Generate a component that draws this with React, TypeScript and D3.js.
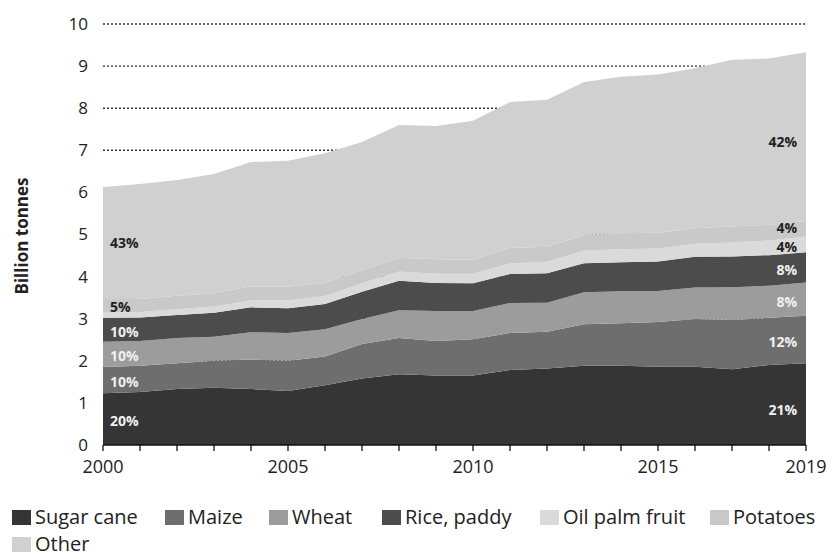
import React from "react";
import * as d3 from "d3";

const years = [2000,2001,2002,2003,2004,2005,2006,2007,2008,2009,2010,2011,2012,2013,2014,2015,2016,2017,2018,2019];
const sugarCane = [1.23,1.26,1.33,1.36,1.33,1.28,1.42,1.58,1.68,1.65,1.65,1.78,1.82,1.88,1.88,1.86,1.86,1.80,1.90,1.94];
const maize = [0.62,0.62,0.61,0.64,0.70,0.72,0.68,0.82,0.86,0.82,0.86,0.88,0.87,0.99,1.01,1.06,1.13,1.17,1.12,1.13];
const wheat = [0.60,0.59,0.60,0.57,0.65,0.66,0.65,0.59,0.66,0.71,0.67,0.71,0.69,0.76,0.76,0.74,0.75,0.78,0.76,0.79];
const rice = [0.57,0.56,0.55,0.57,0.59,0.59,0.60,0.65,0.70,0.67,0.66,0.69,0.70,0.69,0.69,0.70,0.73,0.73,0.73,0.72];
const oilPalm = [0.12,0.13,0.135,0.15,0.16,0.18,0.19,0.20,0.22,0.22,0.23,0.25,0.27,0.30,0.31,0.31,0.31,0.33,0.35,0.37];
const potatoes = [0.33,0.31,0.32,0.32,0.34,0.33,0.31,0.32,0.33,0.34,0.33,0.37,0.36,0.36,0.38,0.37,0.37,0.38,0.37,0.37];
const other = [2.66,2.73,2.75,2.83,2.95,2.99,3.08,3.04,3.15,3.17,3.30,3.47,3.49,3.64,3.72,3.76,3.80,3.96,3.95,4.01];

const seriesNames = ["Sugar cane","Maize","Wheat","Rice, paddy","Oil palm fruit","Potatoes","Other"];
const seriesValues = [sugarCane, maize, wheat, rice, oilPalm, potatoes, other];
const seriesColors = ["#353535","#6e6e6e","#9c9c9c","#4c4c4c","#dadada","#c9c9c9","#d0d0d0"];
const yTicks = [0,1,2,3,4,5,6,7,8,9,10];
const xTickLabels = [2000,2005,2010,2015,2019];
const startShares = ["20%","10%","10%","10%","","5%","43%"];
const endShares = ["21%","12%","8%","8%","4%","4%","42%"];
const labelDark = [false,false,false,false,true,true,true];

const W = 834, H = 559;
const FONT = "'Open Sans', Lato, sans-serif";

export default function App() {
  const x = d3.scaleLinear().domain([2000, 2019]).range([103, 806]);
  const y = d3.scaleLinear().domain([0, 10]).range([445, 24]);

  const rows = years.map((yr, i) => {
    const r: any = { year: yr };
    seriesNames.forEach((n, k) => (r[n] = seriesValues[k][i]));
    return r;
  });
  const stacked = d3.stack<any>().keys(seriesNames)(rows);
  const area = d3.area<any>()
    .x((d) => x(d.data.year))
    .y0((d) => y(d[0]))
    .y1((d) => y(d[1]));

  const legendItems = [
    { i: 0, sx: 12, tx: 35, ty: 517 },
    { i: 1, sx: 165, tx: 188, ty: 517 },
    { i: 2, sx: 269, tx: 292, ty: 517 },
    { i: 3, sx: 382, tx: 405, ty: 517 },
    { i: 4, sx: 540, tx: 563, ty: 517 },
    { i: 5, sx: 710, tx: 733, ty: 517 },
    { i: 6, sx: 12, tx: 35, ty: 544 },
  ];

  const first = stacked.map((s) => (s[0][0] + s[0][1]) / 2);
  const last = stacked.map((s) => (s[s.length - 1][0] + s[s.length - 1][1]) / 2);
  const startLabelY = [421, 382, 356, 332, null, 307, 243];
  const endLabelY = [410, 342, 302, 270, 247, 228, 142];

  return (
    <svg width={W} height={H} style={{ position: "absolute", left: 0, top: 0, background: "#fff" }} fontFamily={FONT}>
      {yTicks.filter((t) => t > 0).map((t) => (
        <line key={"g" + t} x1={x(2000)} x2={805} y1={y(t)} y2={y(t)} stroke="#333" strokeWidth={1.4} strokeDasharray="2,2" />
      ))}
      {stacked.map((s, k) => (
        <path key={seriesNames[k]} d={area(s) || ""} fill={seriesColors[k]} />
      ))}
      <line x1={x(2000)} x2={x(2019)} y1={y(0)} y2={y(0)} stroke="#111" strokeWidth={1.5} />
      {years.map((yr) => (
        <line key={"t" + yr} x1={x(yr)} x2={x(yr)} y1={y(0)} y2={y(0) + 6} stroke="#111" strokeWidth={1.3} />
      ))}
      {yTicks.map((t) => (
        <text key={"yl" + t} x={88} y={y(t)} dy="0.35em" textAnchor="end" fontSize={17} fill="#222">{t}</text>
      ))}
      {xTickLabels.map((t) => (
        <text key={"xl" + t} x={x(t)} y={467} dy="0.35em" textAnchor="middle" fontSize={18} fill="#222">{t}</text>
      ))}
      <text transform="translate(22,236) rotate(-90)" textAnchor="middle" dy="0.35em" fontSize={17} fontWeight="bold" fill="#222">Billion tonnes</text>
      {startShares.map((s, k) => s ? (
        <text key={"sl" + k} x={110} y={startLabelY[k] ?? y(first[k])} dy="0.35em" fontSize={14} fontWeight="bold" fill={labelDark[k] ? "#222" : "#f0f0f0"}>{s}</text>
      ) : null)}
      {endShares.map((s, k) => (
        <text key={"el" + k} x={797} y={endLabelY[k] ?? y(last[k])} dy="0.35em" textAnchor="end" fontSize={14} fontWeight="bold" fill={labelDark[k] ? "#222" : "#f0f0f0"}>{s}</text>
      ))}
      {legendItems.map(({ i, sx, tx, ty }) => (
        <g key={"lg" + i}>
          <rect x={sx} y={ty - 7} width={19} height={15} fill={seriesColors[i]} />
          <text x={tx} y={ty} dy="0.35em" fontSize={20} fill="#222">{seriesNames[i]}</text>
        </g>
      ))}
    </svg>
  );
}
